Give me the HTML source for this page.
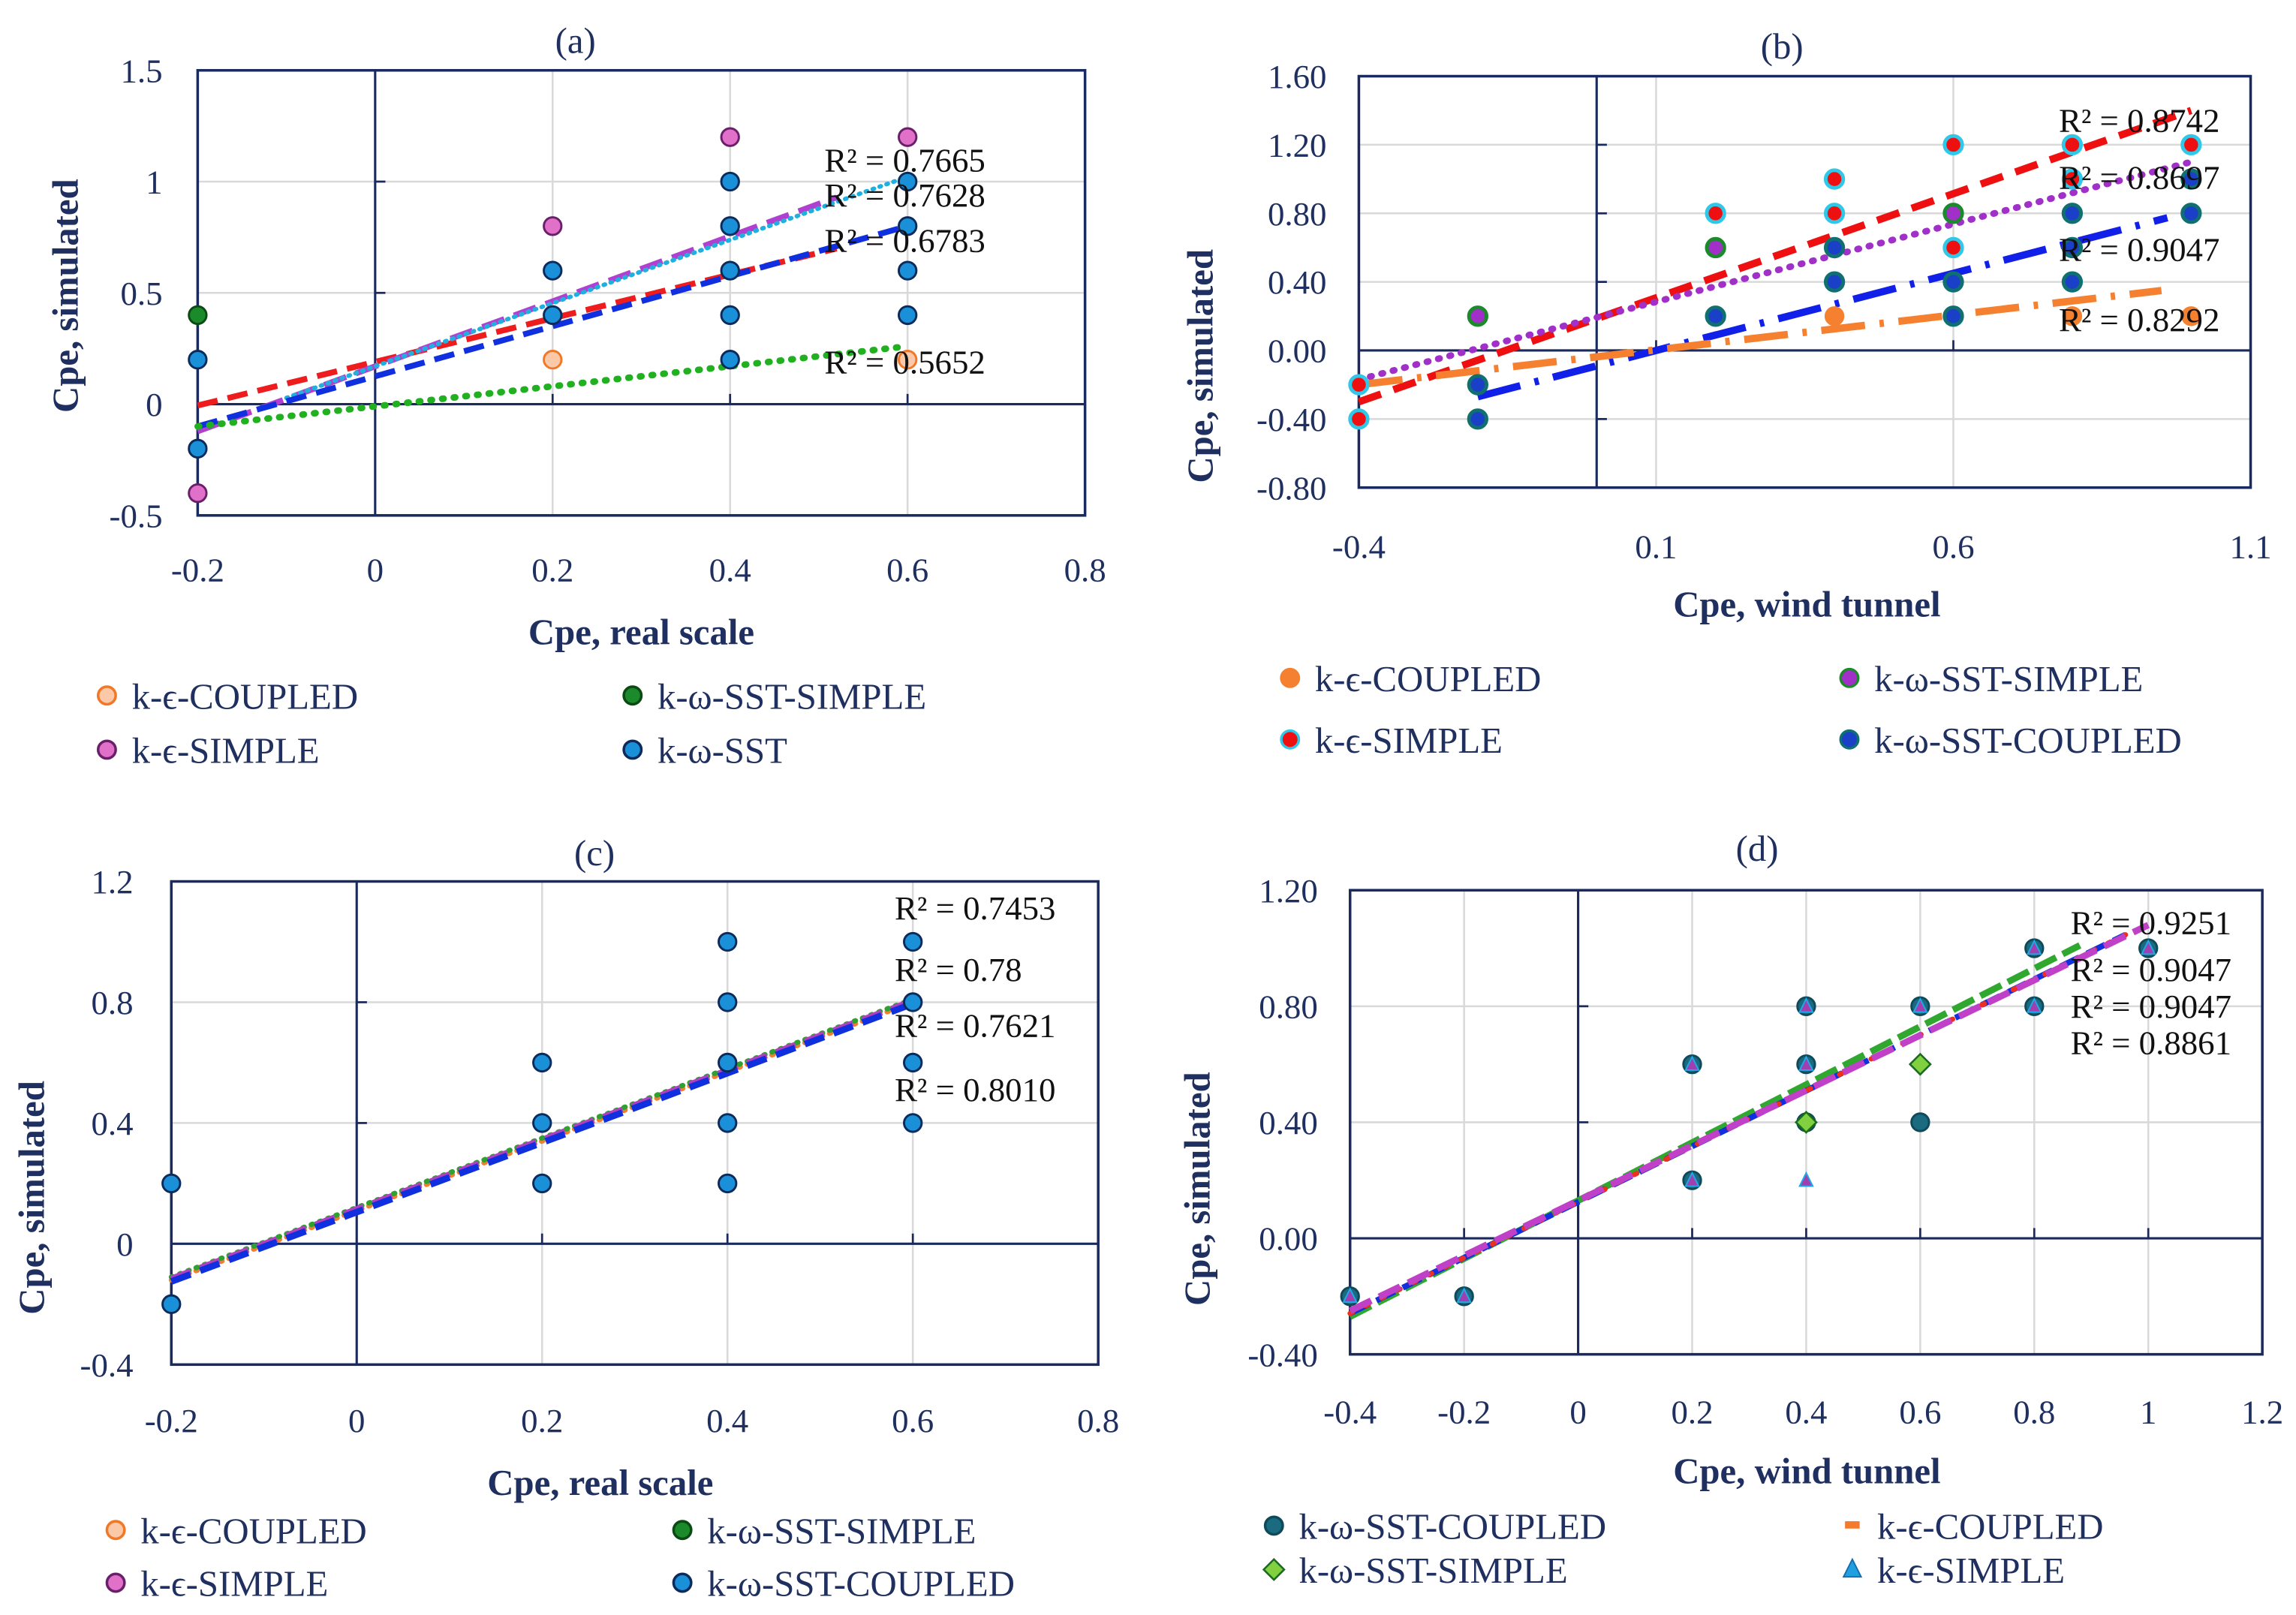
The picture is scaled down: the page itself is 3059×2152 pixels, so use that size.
<!DOCTYPE html>
<html><head><meta charset="utf-8"><style>
html,body{margin:0;padding:0;background:#fff}
svg{display:block}
text{font-family:"Liberation Serif",serif}
</style></head><body>
<svg id="fig" xmlns="http://www.w3.org/2000/svg" width="3059" height="2152" viewBox="0 0 1568 1103"></svg>
<script>
// ---- Panel (a) data ----
const aXTicks=[-0.2,0,0.2,0.4,0.6,0.8];
const aXTickLabels=["-0.2","0","0.2","0.4","0.6","0.8"];
const aYTicks=[-0.5,0,0.5,1,1.5];
const aYTickLabels=["-0.5","0","0.5","1","1.5"];
const aKeSimpleX=[-0.2,0.2,0.4,0.6];
const aKeSimpleY=[-0.4,0.8,1.2,1.2];
const aKeCoupledX=[0.2,0.6];
const aKeCoupledY=[0.2,0.2];
const aSstSimpleX=[-0.2];
const aSstSimpleY=[0.4];
const aSstX=[-0.2,-0.2,0.2,0.2,0.4,0.4,0.4,0.4,0.4,0.6,0.6,0.6,0.6];
const aSstY=[0.2,-0.2,0.6,0.4,1.0,0.8,0.6,0.4,0.2,1.0,0.8,0.6,0.4];
const aTrendSlope=[0.98,1.46,1.42,1.125,0.45];
const aTrendIntercept=[0.19,0.17,0.17,0.125,-0.01];
const aTrendXStart=[-0.2,-0.2,-0.1,-0.2,-0.2];
const aTrendXEnd=[0.52,0.52,0.6,0.6,0.6];
const aR2=["R² = 0.7665","R² = 0.7628","R² = 0.6783","R² = 0.5652"];
// ---- Panel (b) data ----
const bXTicks=[-0.4,0.1,0.6,1.1];
const bXTickLabels=["-0.4","0.1","0.6","1.1"];
const bYTicks=[-0.8,-0.4,0,0.4,0.8,1.2,1.6];
const bYTickLabels=["-0.80","-0.40","0.00","0.40","0.80","1.20","1.60"];
const bKeSimpleX=[-0.4,-0.4,0.2,0.4,0.4,0.6,0.6,0.8,1.0,0.8];
const bKeSimpleY=[-0.2,-0.4,0.8,1.0,0.8,1.2,0.6,1.2,1.2,1.0];
const bSstSimpleX=[-0.2,0.2,0.6];
const bSstSimpleY=[0.2,0.6,0.8];
const bSstCoupledX=[-0.2,-0.2,0.2,0.4,0.4,0.6,0.6,0.8,0.8,0.8,1.0,1.0];
const bSstCoupledY=[-0.2,-0.4,0.2,0.6,0.4,0.4,0.2,0.8,0.6,0.4,1.0,0.8];
const bKeCoupledX=[0.4,0.8,1.0];
const bKeCoupledY=[0.2,0.2,0.2];
const bTrendSlope=[1.214,0.907,0.9,0.407];
const bTrendIntercept=[0.186,0.193,-0.09,-0.037];
const bTrendXStart=[-0.4,-0.4,-0.2,-0.4];
const bTrendXEnd=[1.0,1.0,0.96,0.95];
const bR2=["R² = 0.8742","R² = 0.8697","R² = 0.9047","R² = 0.8292"];
// ---- Panel (c) data ----
const cXTicks=[-0.2,0,0.2,0.4,0.6,0.8];
const cXTickLabels=["-0.2","0","0.2","0.4","0.6","0.8"];
const cYTicks=[-0.4,0,0.4,0.8,1.2];
const cYTickLabels=["-0.4","0","0.4","0.8","1.2"];
const cSstX=[-0.2,-0.2,0.2,0.2,0.2,0.4,0.4,0.4,0.4,0.4,0.6,0.6,0.6,0.6];
const cSstY=[0.2,-0.2,0.6,0.4,0.2,1.0,0.8,0.6,0.4,0.2,1.0,0.8,0.6,0.4];
const cTrendSlope=[1.15,1.15,1.15,1.15];
const cTrendIntercept=[0.11,0.12,0.115,0.105];
const cTrendXStart=[-0.2,-0.2,-0.2,-0.2];
const cTrendXEnd=[0.6,0.6,0.6,0.6];
const cR2=["R² = 0.7453","R² = 0.78","R² = 0.7621","R² = 0.8010"];
// ---- Panel (d) data ----
const dXTicks=[-0.4,-0.2,0,0.2,0.4,0.6,0.8,1,1.2];
const dXTickLabels=["-0.4","-0.2","0","0.2","0.4","0.6","0.8","1","1.2"];
const dYTicks=[-0.4,0,0.4,0.8,1.2];
const dYTickLabels=["-0.40","0.00","0.40","0.80","1.20"];
const dSstCoupledX=[-0.4,-0.2,0.2,0.2,0.4,0.4,0.4,0.6,0.6,0.8,0.8,1.0];
const dSstCoupledY=[-0.2,-0.2,0.6,0.2,0.8,0.6,0.4,0.8,0.4,1.0,0.8,1.0];
const dSstSimpleX=[0.4,0.6];
const dSstSimpleY=[0.4,0.6];
const dKeSimpleX=[-0.4,-0.2,0.2,0.2,0.4,0.4,0.4,0.6,0.8,0.8,1.0];
const dKeSimpleY=[-0.2,-0.2,0.6,0.2,0.8,0.6,0.2,0.8,1.0,0.8,1.0];
const dTrendSlope=[1.0,0.96,0.96,0.95];
const dTrendIntercept=[0.13,0.125,0.125,0.13];
const dTrendXStart=[-0.4,-0.4,-0.4,-0.4];
const dTrendXEnd=[0.88,0.96,0.96,1.0];
const dR2=["R² = 0.9251","R² = 0.9047","R² = 0.9047","R² = 0.8861"];

const NS="http://www.w3.org/2000/svg";
const svg=document.getElementById('fig');
const NAVY="#1a2a5e", TXT="#1f3060";
function mk(tag,attrs,parent){const e=document.createElementNS(NS,tag);for(const k in attrs)e.setAttribute(k,attrs[k]);(parent||svg).appendChild(e);return e;}
function txt(s,x,y,attrs,parent){const e=mk('text',Object.assign({x:x,y:y},attrs),parent);e.textContent=s;return e;}

function panel(o){
  const g=mk('g',{});
  
  
  const X=v=>o.x0+(v-o.xmin)/(o.xmax-o.xmin)*(o.x1-o.x0);
  const Y=v=>o.y1-(v-o.ymin)/(o.ymax-o.ymin)*(o.y1-o.y0);
  o.xTicks.forEach(v=>{if(v>o.xmin&&v<o.xmax&&v!==0){const l=mk('line',{x1:X(v),x2:X(v),y1:o.y0,y2:o.y1,stroke:"#d9d9d9","stroke-width":1.3},g);}});
  o.yTicks.forEach(v=>{if(v>o.ymin&&v<o.ymax&&v!==0){const l=mk('line',{x1:o.x0,x2:o.x1,y1:Y(v),y2:Y(v),stroke:"#d9d9d9","stroke-width":1.3},g);}});
  const za=mk('line',{x1:X(0),x2:X(0),y1:o.y0,y2:o.y1,stroke:NAVY,"stroke-width":1.6},g);
  
  const zb=mk('line',{x1:o.x0,x2:o.x1,y1:Y(0),y2:Y(0),stroke:NAVY,"stroke-width":1.6},g);
  
  o.xTicks.forEach(v=>{if(v!==0&&v>o.xmin&&v<o.xmax)mk('line',{x1:X(v),x2:X(v),y1:Y(0),y2:Y(0)-7,stroke:NAVY,"stroke-width":1.4},g);});
  o.yTicks.forEach(v=>{if(v!==0&&v>o.ymin&&v<o.ymax)mk('line',{x1:X(0),x2:X(0)+7,y1:Y(v),y2:Y(v),stroke:NAVY,"stroke-width":1.4},g);});
  const fr=mk('rect',{x:o.x0,y:o.y0,width:o.x1-o.x0,height:o.y1-o.y0,fill:"none",stroke:NAVY,"stroke-width":1.8},g);
  
  o.xTicks.forEach((v,i)=>{const t=txt(o.xTickLabels[i],X(v),o.xLabY,{"font-size":23,fill:TXT,"text-anchor":"middle"},g);});
  o.yTicks.forEach((v,i)=>{const t=txt(o.yTickLabels[i],o.x0-o.yLabGap,Y(v)+8,{"font-size":23,fill:TXT,"text-anchor":"end"},g);});
  o.trends.forEach((tr,i)=>{
    const xa=o.tXs[i],xb=o.tXe[i];
    const l=mk('line',{x1:X(xa),y1:Y(o.tSlope[i]*xa+o.tInt[i]),x2:X(xb),y2:Y(o.tSlope[i]*xb+o.tInt[i]),stroke:tr.c,"stroke-width":tr.w||4,"stroke-dasharray":tr.d,"stroke-linecap":tr.cap||"butt"},g);
    
    
  });
  o.series.forEach(s=>{
    s.xs.forEach((xv,i)=>{
      const cx=X(xv),cy=Y(s.ys[i]);let e;
      if(s.shape==='diamond') e=mk('polygon',{points:`${cx},${cy-7} ${cx+7},${cy} ${cx},${cy+7} ${cx-7},${cy}`,fill:s.f,stroke:s.s,"stroke-width":1.3},g);
      else if(s.shape==='tri') e=mk('polygon',{points:`${cx},${cy-5} ${cx+4.5},${cy+4} ${cx-4.5},${cy+4}`,fill:s.f,stroke:s.s,"stroke-width":1},g);
      else e=mk('circle',{cx:cx,cy:cy,r:s.r||6,fill:s.f,stroke:s.s,"stroke-width":s.sw||1.5},g);
      
      
    });
  });
  o.r2.forEach((s,i)=>{const t=txt(s,o.r2x,o.r2y[i],{"font-size":23,fill:"#111","text-anchor":"start"},g);});
  const tt=txt(o.title,o.titleX,o.titleY,{"font-size":25,fill:TXT,"text-anchor":"middle"},g);
  
  const xt=txt(o.xTitle,o.xTitleX,o.xTitleY,{"font-size":25,"font-weight":"bold",fill:TXT,"text-anchor":"middle"},g);
  
  const yt=txt(o.yTitle,0,0,{"font-size":25,"font-weight":"bold",fill:TXT,"text-anchor":"middle",transform:`translate(${o.yTitleX},${o.yTitleY}) rotate(-90)`},g);
  
  o.legend.forEach(L=>{
    const lg=mk('g',{},g);
    
    
    if(L.shape==='diamond') mk('polygon',{points:`${L.x},${L.y-7} ${L.x+7},${L.y} ${L.x},${L.y+7} ${L.x-7},${L.y}`,fill:L.f,stroke:L.s,"stroke-width":1.3},lg);
    else if(L.shape==='tri') mk('polygon',{points:`${L.x},${L.y-7} ${L.x+6},${L.y+5} ${L.x-6},${L.y+5}`,fill:L.f,stroke:L.s,"stroke-width":1},lg);
    else if(L.shape==='dash') mk('rect',{x:L.x-5,y:L.y-3,width:10,height:5,fill:L.f},lg);
    else mk('circle',{cx:L.x,cy:L.y,r:6,fill:L.f,stroke:L.s,"stroke-width":1.8},lg);
    txt(L.t,L.x+17,L.y+9,{"font-size":25,fill:TXT},lg);
  });
}

panel({name:'chart-a',x0:135,x1:741,y0:48,y1:352,xmin:-0.2,xmax:0.8,ymin:-0.5,ymax:1.5,
  xTicks:aXTicks,xTickLabels:aXTickLabels,yTicks:aYTicks,yTickLabels:aYTickLabels,xLabY:397,yLabGap:24,
  trends:[{n:'ke-coupled',c:'#ee1c1c',d:'14 7'},{n:'ke-simple',c:'#b040d0',d:'16 7'},{n:'sst-simple-cyan',c:'#20b0e0',d:'1 4',w:3,cap:'round'},{n:'sst',c:'#1030e0',d:'14 7'},{n:'sst-simple',c:'#20b020',d:'1 7',w:4.5,cap:'round'}],
  tSlope:aTrendSlope,tInt:aTrendIntercept,tXs:aTrendXStart,tXe:aTrendXEnd,
  series:[{n:'ke-simple',xs:aKeSimpleX,ys:aKeSimpleY,f:'#e070c8',s:'#6a1f6a'},{n:'ke-coupled',xs:aKeCoupledX,ys:aKeCoupledY,f:'#fbc9a8',s:'#f07828'},{n:'sst-simple',xs:aSstSimpleX,ys:aSstSimpleY,f:'#1a8a2a',s:'#0c4a14'},{n:'sst',xs:aSstX,ys:aSstY,f:'#1a90d8',s:'#0c2a5a'}],
  r2:aR2,r2x:563,r2y:[117,141,172,255],
  title:'(a)',titleX:393,titleY:36,xTitle:'Cpe, real scale',xTitleX:438,xTitleY:440,yTitle:'Cpe, simulated',yTitleX:53,yTitleY:202,
  legend:[{x:73,y:475,f:'#fbc9a8',s:'#f07828',t:'k-ϵ-COUPLED'},{x:432,y:475,f:'#1a8a2a',s:'#0c4a14',t:'k-ω-SST-SIMPLE'},{x:73,y:512,f:'#e070c8',s:'#6a1f6a',t:'k-ϵ-SIMPLE'},{x:432,y:512,f:'#1a90d8',s:'#0c2a5a',t:'k-ω-SST'}]
});
panel({name:'chart-b',x0:928,x1:1537,y0:52,y1:333,xmin:-0.4,xmax:1.1,ymin:-0.8,ymax:1.6,
  xTicks:bXTicks,xTickLabels:bXTickLabels,yTicks:bYTicks,yTickLabels:bYTickLabels,xLabY:381,yLabGap:22,
  trends:[{n:'ke-simple',c:'#ee1010',d:'16 9',w:5},{n:'sst-simple',c:'#a030c8',d:'1 7',w:4.5,cap:'round'},{n:'sst-coupled',c:'#1020e8',d:'30 10 3 10',w:5},{n:'ke-coupled',c:'#f48030',d:'30 10 3 10',w:5}],
  tSlope:bTrendSlope,tInt:bTrendIntercept,tXs:bTrendXStart,tXe:bTrendXEnd,
  series:[{n:'ke-coupled',xs:bKeCoupledX,ys:bKeCoupledY,f:'#f48030',s:'#f48030'},{n:'ke-simple',xs:bKeSimpleX,ys:bKeSimpleY,f:'#ee1010',s:'#30c8e8',sw:2.5},{n:'sst-simple',xs:bSstSimpleX,ys:bSstSimpleY,f:'#a030c8',s:'#1a8a2a',sw:2.5},{n:'sst-coupled',xs:bSstCoupledX,ys:bSstCoupledY,f:'#1a40c8',s:'#107070',sw:2.5}],
  r2:bR2,r2x:1406,r2y:[90,129,178,226],
  title:'(b)',titleX:1217,titleY:40,xTitle:'Cpe, wind tunnel',xTitleX:1234,xTitleY:421,yTitle:'Cpe, simulated',yTitleX:828,yTitleY:250,
  legend:[{x:881,y:463,f:'#f48030',s:'#f48030',t:'k-ϵ-COUPLED'},{x:1263,y:463,f:'#a030c8',s:'#1a8a2a',t:'k-ω-SST-SIMPLE'},{x:881,y:505,f:'#ee1010',s:'#30c8e8',t:'k-ϵ-SIMPLE'},{x:1263,y:505,f:'#1a40c8',s:'#107070',t:'k-ω-SST-COUPLED'}]
});
panel({name:'chart-c',x0:117,x1:750,y0:602,y1:932,xmin:-0.2,xmax:0.8,ymin:-0.4,ymax:1.2,
  xTicks:cXTicks,xTickLabels:cXTickLabels,yTicks:cYTicks,yTickLabels:cYTickLabels,xLabY:978,yLabGap:26,
  trends:[{n:'ke-coupled',c:'#f08030',d:'1 5',w:3.5,cap:'round'},{n:'sst-simple',c:'#30a030',d:'1 5',w:3.5,cap:'round'},{n:'ke-simple',c:'#b040c0',d:'14 7'},{n:'sst-coupled',c:'#1030e0',d:'14 7',w:4.5}],
  tSlope:cTrendSlope,tInt:cTrendIntercept,tXs:cTrendXStart,tXe:cTrendXEnd,
  series:[{n:'sst-coupled',xs:cSstX,ys:cSstY,f:'#1a90d8',s:'#0c2a5a'}],
  r2:cR2,r2x:611,r2y:[628,670,708,752],
  title:'(c)',titleX:406,titleY:591,xTitle:'Cpe, real scale',xTitleX:410,xTitleY:1021,yTitle:'Cpe, simulated',yTitleX:30,yTitleY:818,
  legend:[{x:79,y:1045,f:'#fbc9a8',s:'#f07828',t:'k-ϵ-COUPLED'},{x:466,y:1045,f:'#1a8a2a',s:'#0c4a14',t:'k-ω-SST-SIMPLE'},{x:79,y:1081,f:'#e070c8',s:'#6a1f6a',t:'k-ϵ-SIMPLE'},{x:466,y:1081,f:'#1a90d8',s:'#0c2a5a',t:'k-ω-SST-COUPLED'}]
});
panel({name:'chart-d',x0:922,x1:1545,y0:608,y1:925,xmin:-0.4,xmax:1.2,ymin:-0.4,ymax:1.2,
  xTicks:dXTicks,xTickLabels:dXTickLabels,yTicks:dYTicks,yTickLabels:dYTickLabels,xLabY:972,yLabGap:22,
  trends:[{n:'sst-simple',c:'#30a830',d:'16 5',w:4.5},{n:'sst-coupled',c:'#1030e0',d:'14 6'},{n:'ke-coupled',c:'#ee3020',d:'2 10',w:3.5,cap:'round'},{n:'ke-simple',c:'#c040c8',d:'16 6',w:4.5}],
  tSlope:dTrendSlope,tInt:dTrendIntercept,tXs:dTrendXStart,tXe:dTrendXEnd,
  series:[{n:'sst-coupled',xs:dSstCoupledX,ys:dSstCoupledY,f:'#1a6a80',s:'#0f4a5a'},{n:'sst-simple',xs:dSstSimpleX,ys:dSstSimpleY,f:'#80d040',s:'#1a6a20',shape:'diamond'},{n:'ke-simple',xs:dKeSimpleX,ys:dKeSimpleY,f:'#a040b0',s:'#20a8e8',shape:'tri'}],
  r2:dR2,r2x:1414,r2y:[638,670,695,720],
  title:'(d)',titleX:1200,titleY:588,xTitle:'Cpe, wind tunnel',xTitleX:1234,xTitleY:1013,yTitle:'Cpe, simulated',yTitleX:826,yTitleY:812,
  legend:[{x:870,y:1042,f:'#1a6a80',s:'#0f4a5a',t:'k-ω-SST-COUPLED'},{x:1265,y:1042,f:'#f47a30',shape:'dash',t:'k-ϵ-COUPLED'},{x:870,y:1072,f:'#80d040',s:'#1a6a20',shape:'diamond',t:'k-ω-SST-SIMPLE'},{x:1265,y:1072,f:'#20a0e0',s:'#1070b0',shape:'tri',t:'k-ϵ-SIMPLE'}]
});
</script>
</body></html>
